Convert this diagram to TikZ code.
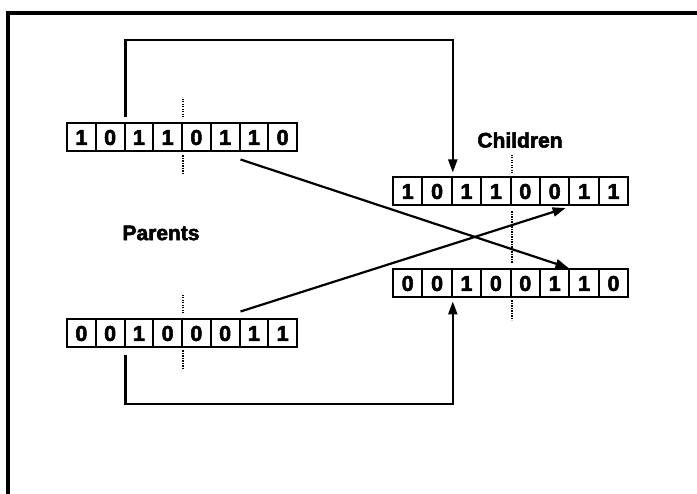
\documentclass[tikz,border=0pt]{standalone}
\usepackage{fontspec}
\setmainfont{Liberation Sans}[BoldFeatures={FakeBold=2.5}]
\usetikzlibrary{arrows.meta,calc}
\begin{document}
\begin{tikzpicture}[x=1pt,y=-1pt,
  cell/.style={draw,line width=2pt,minimum height=28pt,inner sep=0pt,anchor=west,
    font=\fontsize{21.5}{21.5}\selectfont\bfseries},
  pcell/.style={cell,minimum width=28.75pt},
  ccell/.style={cell,minimum width=29.4pt},
  conn/.style={line width=2.2pt},
  tip/.style={-{Triangle[length=13pt,width=9pt]}},
  cut/.style={line width=1.8pt,dash pattern=on 1.2pt off 1.3pt},
  title/.style={font=\fontsize{21}{21}\selectfont\bfseries,inner sep=0pt}]
\useasboundingbox (0,0) rectangle (697,494);
% frame
\draw[line width=3.2pt] (8,494) -- (8,13) -- (697,13);
% chromosomes
\foreach \b [count=\i] in {1,0,1,1,0,1,1,0}
  \node[pcell] (p1-\i) at (66+28.75*\i-28.75,137.5) {\b};
\foreach \b [count=\i] in {0,0,1,0,0,0,1,1}
  \node[pcell] (p2-\i) at (66+28.75*\i-28.75,333.5) {\b};
\foreach \b [count=\i] in {1,0,1,1,0,0,1,1}
  \node[ccell] (c1-\i) at (392+29.4*\i-29.4,191.5) {\b};
\foreach \b [count=\i] in {0,0,1,0,0,1,1,0}
  \node[ccell] (c2-\i) at (392+29.4*\i-29.4,283.5) {\b};
% labels
\node[title] (parents) at (161,233) {Parents};
\node[title] (children) at (520,140) {Children};
% cut points
\draw[cut] ($(p1-4.north east)+(0,-5)$) -- ($(p1-4.north east)+(0,-25)$);
\draw[cut] ($(p1-4.south east)+(0,3)$) -- ($(p1-4.south east)+(0,21)$);
\draw[cut] ($(p2-4.north east)+(0,-5)$) -- ($(p2-4.north east)+(0,-23)$);
\draw[cut] ($(p2-4.south east)+(0,2)$) -- ($(p2-4.south east)+(0,21)$);
\draw[cut] ($(c1-4.north east)+(0,-3)$) -- ($(c1-4.north east)+(0,-21)$);
\draw[cut] ($(c1-4.south east)+(0,5)$) -- ($(c2-4.north east)+(0,-5)$);
\draw[cut] ($(c2-4.south east)+(0,2)$) -- ($(c2-4.south east)+(0,22)$);
% connectors
\coordinate (topy) at (0,40);
\coordinate (boty) at (0,404);
\draw[conn,tip,shorten <=5pt,shorten >=4pt] (p1-2.north east) -- (p1-2.north east |- topy) -| (c1-2.north east);
\draw[conn,tip,shorten <=7pt,shorten >=3pt] (p2-2.south east) -- (p2-2.south east |- boty) -| (c2-2.south east);
\draw[conn,tip,shorten >=2pt] ($(p1-6.south east)+(0,7)$) -- (c2-6.north east);
\draw[conn,tip,shorten >=5pt] ($(p2-6.north east)+(0,-7)$) -- (c1-6.south east);
\end{tikzpicture}
\end{document}
